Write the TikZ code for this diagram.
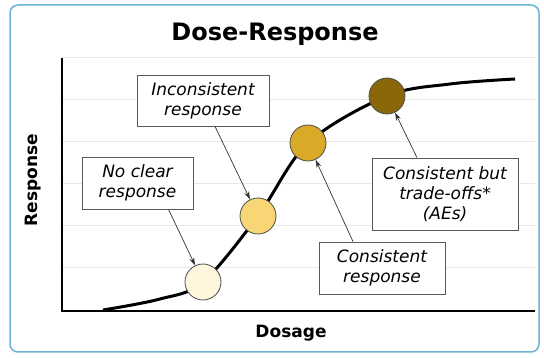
\documentclass[tikz,border=0pt]{standalone}
\usepackage{fontspec}
\setmainfont{DejaVu Sans}
\usetikzlibrary{arrows.meta}

\definecolor{frameblue}{HTML}{6CB4D4}
\definecolor{gridgray}{HTML}{E8E8E8}
\definecolor{doseA}{HTML}{FFF6DE}
\definecolor{doseB}{HTML}{F8D676}
\definecolor{doseC}{HTML}{D8AA28}
\definecolor{doseD}{HTML}{8A680A}

\begin{document}
\begin{tikzpicture}[x=1pt, y=-1pt,
    note/.style={draw=black!65, line width=0.8pt, fill=white, align=center,
        font=\itshape\fontsize{17}{20}\selectfont, inner sep=2pt},
    dot/.style={circle, draw=black!70, line width=0.8pt, minimum size=36pt, inner sep=0pt},
    pointer/.style={draw=black!80, line width=0.7pt, -{Stealth[length=8pt, width=5pt]}},
    axislabel/.style={font=\bfseries\fontsize{17}{20}\selectfont}]
    \useasboundingbox (0,0) rectangle (544,358);

    % frame
    \draw[frameblue, line width=1.5pt, rounded corners=8pt, fill=white] (10,5) rectangle (539,352);
    \node[font=\bfseries\fontsize{24}{28}\selectfont] (title) at (275,34) {Dose-Response};

    % grid
    \foreach \gy in {58,100,142,184,226,268}
        \draw[gridgray, line width=1pt] (62,\gy) -- (535,\gy);

    % axes
    \coordinate (origin) at (62,311);
    \coordinate (ytop) at (62,58);
    \coordinate (xend) at (535,311);
    \draw[line width=1.3pt] (ytop) -- (origin) -- (xend);
    \node[axislabel] (xlabel) at (291,333) {Dosage};
    \node[axislabel, rotate=90] (ylabel) at (33,180) {Response};

    % curve
    \draw[line width=3pt] plot[smooth, tension=0.55] coordinates
        {(103,310) (160,299) (203,282) (258,216) (308,143) (387,96) (450,84) (515,79)};

    % 1
    \node[dot, fill=doseA] (d1) at (203,282) {};
    \node[note, minimum width=111pt, minimum height=52pt] (noclear) at (137.5,183) {No clear\\response};
    \draw[pointer] ([xshift=31pt]noclear.south) -- (d1);
    % 2
    \node[dot, fill=doseB] (d2) at (258,216) {};
    \node[note, minimum width=132pt, minimum height=51pt] (inconsistent) at (203,100.5) {Inconsistent\\response};
    \draw[pointer] ([xshift=12pt]inconsistent.south) -- (d2);
    % 3
    \node[dot, fill=doseC] (d3) at (308,143) {};
    \node[note, minimum width=126pt, minimum height=52pt] (consistent) at (382,268) {Consistent\\response};
    \draw[pointer] ([xshift=-29pt]consistent.north) -- (d3);
    % 4
    \node[dot, fill=doseD] (d4) at (387,96) {};
    \node[note, minimum width=146pt, minimum height=72pt] (tradeoffs) at (445,194) {Consistent but\\trade-offs*\\(AEs)};
    \draw[pointer] ([xshift=-28pt]tradeoffs.north) -- (d4);

\end{tikzpicture}
\end{document}
